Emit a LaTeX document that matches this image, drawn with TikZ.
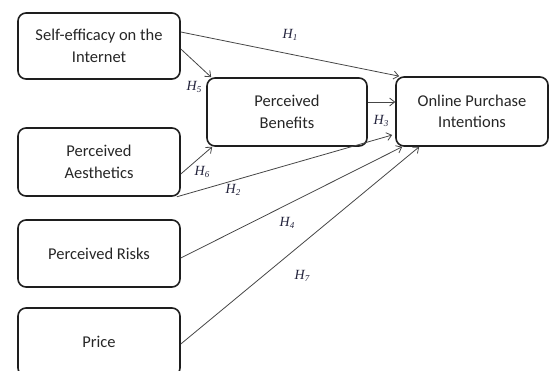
\documentclass[tikz,border=0pt]{standalone}
\usepackage{fontspec}
\setmainfont{Carlito}
\newfontfamily\tnr{Liberation Serif}
\usetikzlibrary{arrows.meta}
\definecolor{boxline}{RGB}{30,30,30}
\definecolor{arrline}{RGB}{70,70,70}
\definecolor{hcol}{RGB}{35,35,60}
\newcommand{\hyp}[1]{{\tnr\itshape H\raisebox{-2.5pt}{\fontsize{9}{9}\selectfont #1}}}
\tikzset{
  varbox/.style={draw=boxline, line width=1.6pt, rounded corners=8pt, align=center,
    font=\fontsize{16.5}{21.5}\selectfont, text=black!85, inner sep=0pt},
  conn/.style={draw=arrline, line width=0.8pt, -{Straight Barb[length=5pt,width=8pt]}},
  hlab/.style={font=\fontsize{14}{14}\selectfont, text=hcol, inner sep=0pt}
}
\begin{document}
\begin{tikzpicture}[x=1pt,y=-1pt]
\useasboundingbox (0,0) rectangle (549,371);
\node[varbox, minimum width=162pt, minimum height=66pt] (se) at (99,46) {Self-efficacy on the\\Internet};
\node[varbox, minimum width=162pt, minimum height=68pt] (pa) at (99,162) {Perceived\\Aesthetics};
\node[varbox, minimum width=162pt, minimum height=67pt] (pr) at (99,253.5) {Perceived Risks};
\node[varbox, minimum width=162pt, minimum height=68pt] (pp) at (99,342) {Price};
\node[varbox, minimum width=160pt, minimum height=68pt] (pb) at (287,112) {Perceived\\Benefits};
\node[varbox, minimum width=152pt, minimum height=69pt] (oi) at (472,111.5) {Online Purchase\\Intentions};

\draw[conn] ([yshift=14pt]se.east) -- ([xshift=4pt]oi.north west);
\draw[conn] ([yshift=-3pt]se.east) -- ([xshift=5pt]pb.north west);
\draw[conn] ([yshift=10pt]pb.east) -- ([yshift=9.5pt]oi.west);
\draw[conn] ([yshift=-12pt]pa.east) -- ([xshift=6pt]pb.south west);
\draw[conn] ([xshift=-4pt]pa.south east) -- ([xshift=-3pt,yshift=-23.5pt]oi.west);
\draw[conn] ([yshift=-4.5pt]pr.east) -- ([xshift=7pt]oi.south west);
\draw[conn] ([yshift=-2pt]pp.east) -- ([xshift=24pt]oi.south west);

\node[hlab] (h1) at (290,35) {\hyp{1}};
\node[hlab] (h5) at (194,87) {\hyp{5}};
\node[hlab] (h3) at (381,121) {\hyp{3}};
\node[hlab] (h6) at (202,172) {\hyp{6}};
\node[hlab] (h2) at (233,190) {\hyp{2}};
\node[hlab] (h4) at (287,223) {\hyp{4}};
\node[hlab] (h7) at (302,276) {\hyp{7}};
\end{tikzpicture}
\end{document}
